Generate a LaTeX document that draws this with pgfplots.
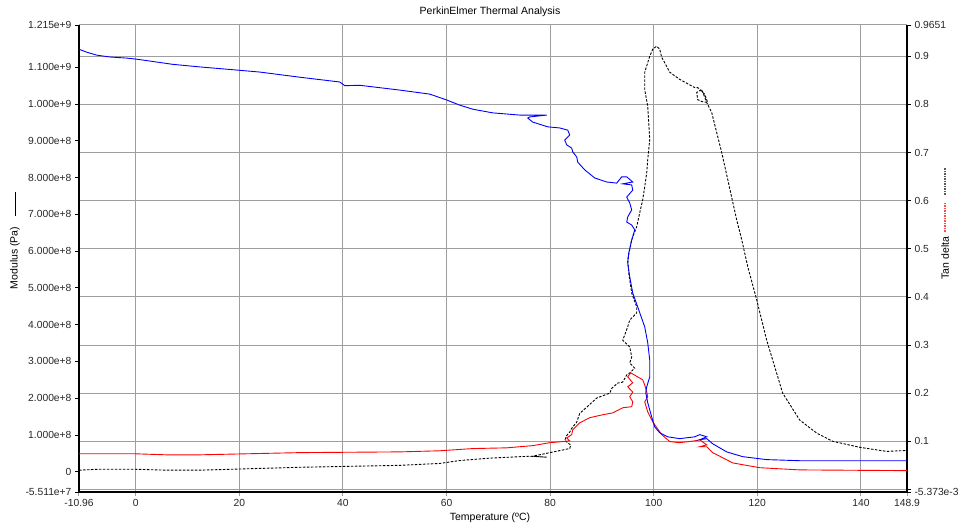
\documentclass[border=0pt]{standalone}
\usepackage{fontspec}
\setmainfont{Liberation Sans}
\usepackage{pgfplots}
\pgfplotsset{compat=1.18}
\definecolor{gridGray}{RGB}{158,158,158}

\pgfplotsset{
  dmabase/.style={
    scale only axis, width=828pt, height=467pt,
    at={(0pt,0pt)}, anchor=south west,
    xmin=-10.96, xmax=148.9,
    xtick={-10.96,0,20,40,60,80,100,120,140,148.9},
    tick align=outside, major tick length=4pt,
    ticklabel style={font=\fontsize{10.3}{12}\selectfont, text=black!85},
    axis line style={black, line width=1.1pt},
    grid style={draw=gridGray, line width=1pt},
  },
}

\begin{document}
\begin{tikzpicture}
% right axis: tan delta, carries the grid
\begin{axis}[dmabase,
  axis y line*=right, axis x line*=bottom,
  ymin=-0.005373, ymax=0.9651,
  ytick={-0.005373,0,0.1,0.2,0.3,0.4,0.5,0.6,0.7,0.8,0.9,0.9651},
  yticklabels={-5.373e-3,,0.1,0.2,0.3,0.4,0.5,0.6,0.7,0.8,0.9,0.9651},
  xticklabels={},
  xmajorgrids, ymajorgrids,
  x tick style={draw=gridGray, line width=1pt},
  y tick style={black, line width=0.8pt},
]
\addplot[black, line width=0.9pt, dash pattern=on 2.5pt off 1.5pt] coordinates {
(-10.96,0.040) (-6.95,0.042) (-0.58,0.042) (5.98,0.040) (12.36,0.040)
(31.66,0.046) (50.97,0.050) (58.69,0.054) (62.55,0.060) (68.34,0.065)
(76.06,0.069) (79.34,0.067) (76.64,0.069) (83.78,0.085) (83.98,0.092)
(82.82,0.102) (83.20,0.112) (83.78,0.119) (84.17,0.127) (85.14,0.140)
(85.71,0.158) (87.07,0.171) (89.00,0.190) (91.51,0.200) (91.89,0.210)
(93.05,0.221) (94.02,0.223) (94.79,0.238) (95.37,0.242) (96.33,0.252)
(95.37,0.263) (95.75,0.275) (95.37,0.296) (94.02,0.310) (94.98,0.338)
(95.37,0.352) (96.72,0.367) (96.72,0.379) (95.75,0.408) (95.17,0.450)
(94.98,0.477) (95.75,0.519) (96.72,0.546) (97.30,0.575) (97.88,0.602)
(98.26,0.629) (98.65,0.658) (98.84,0.685) (99.23,0.727) (98.84,0.796)
(98.26,0.831) (98.26,0.867) (99.23,0.900) (99.81,0.915) (100.58,0.921)
(101.16,0.915) (101.54,0.898) (102.51,0.879) (103.09,0.867) (105.02,0.852)
(107.92,0.835) (108.49,0.835) (109.85,0.821) (110.42,0.804) (109.27,0.806)
(108.49,0.810) (108.30,0.825) (109.27,0.831) (110.23,0.804) (111.20,0.783)
(112.36,0.733) (113.13,0.700) (114.29,0.644) (116.02,0.560) (116.99,0.519)
(118.15,0.463) (119.88,0.394) (121.81,0.310) (124.90,0.200) (128.19,0.144)
(131.47,0.117) (134.56,0.100) (139.77,0.0875) (144.98,0.079) (148.9,0.081)
};
\end{axis}

% left axis: modulus, in units of 1e8 Pa
\begin{axis}[dmabase,
  axis y line*=left, axis x line*=bottom,
  ymin=-0.5511, ymax=12.15,
  ytick={-0.5511,0,1,2,3,4,5,6,7,8,9,10,11,12.15},
  yticklabels={-5.511e+7,0,1.000e+8,2.000e+8,3.000e+8,4.000e+8,5.000e+8,
    6.000e+8,7.000e+8,8.000e+8,9.000e+8,1.000e+9,1.100e+9,1.215e+9},
  xticklabels={-10.96,0,20,40,60,80,100,120,140,148.9},
  x tick style={draw=none},
  y tick style={black, line width=0.8pt},
]
\addplot[red, line width=0.9pt] coordinates {
(-10.96,0.49) (-6.95,0.49) (-0.58,0.49) (5.98,0.46) (12.36,0.46)
(31.66,0.52) (50.97,0.54) (58.69,0.57) (65.06,0.63) (71.62,0.65)
(76.64,0.71) (79.92,0.79) (82.43,0.82) (83.78,0.84) (83.20,0.92)
(84.17,1.01) (84.36,1.14) (85.71,1.33) (87.64,1.47) (90.15,1.55)
(92.08,1.60) (94.02,1.74) (95.75,1.77) (95.95,1.90) (95.37,2.04)
(95.95,2.17) (94.98,2.31) (95.95,2.42) (94.98,2.58) (95.56,2.69)
(97.88,2.50) (98.26,2.36) (98.65,2.17) (98.84,2.04) (98.26,1.90)
(98.84,1.63) (99.81,1.36) (100.58,1.20) (101.54,1.01) (103.09,0.82)
(105.02,0.79) (107.92,0.84) (108.88,0.87) (110.23,0.73) (108.88,0.68)
(110.23,0.68) (111.39,0.52) (115.25,0.24) (120.46,0.11) (128.19,0.05)
(148.9,0.03)
};
\addplot[blue, line width=0.9pt] coordinates {
(-10.96,11.49) (-9.46,11.41) (-7.53,11.33) (-5.02,11.28) (-1.74,11.25)
(0.19,11.22) (2.70,11.17) (7.14,11.08) (12.36,11.01)
(19.88,10.92) (23.94,10.87) (31.66,10.73) (39.38,10.60) (40.35,10.50)
(43.24,10.51) (50.97,10.38) (56.76,10.27) (60.04,10.11) (62.55,9.97)
(65.06,9.86) (68.92,9.76) (74.13,9.70) (76.06,9.70) (79.34,9.70)
(76.06,9.65) (75.68,9.62) (76.64,9.51) (79.54,9.38) (81.85,9.35)
(83.40,9.29) (83.78,9.16) (82.82,9.02) (83.20,8.89) (84.17,8.80)
(84.36,8.70) (85.14,8.56) (85.33,8.42) (86.68,8.21) (88.61,7.99)
(90.93,7.88) (92.86,7.85) (93.82,8.02) (94.79,8.02) (95.95,7.88)
(94.02,7.83) (95.75,7.80) (95.95,7.66) (94.79,7.47) (95.37,7.31)
(95.75,7.12) (94.98,6.93) (94.79,6.79) (95.75,6.71) (96.33,6.58)
(95.75,6.30) (95.17,5.95) (94.98,5.68) (95.37,5.30) (95.95,4.86)
(96.91,4.48) (98.26,3.94) (98.84,3.51) (99.23,3.04) (99.23,2.58)
(98.65,2.31) (98.46,2.15) (98.84,1.88) (99.61,1.49) (100.19,1.22)
(101.16,1.06) (102.70,0.95) (105.02,0.90) (107.92,0.95) (108.88,1.01)
(110.23,0.95) (108.88,0.87) (110.23,0.90) (111.39,0.76) (114.09,0.54)
(117.18,0.41) (121.81,0.33) (128.19,0.30) (148.9,0.30)
};
\end{axis}

% titles and axis labels
\node[font=\fontsize{10.5}{12}\selectfont] at (411pt,480pt) {PerkinElmer Thermal Analysis};
\node[font=\fontsize{10.5}{12}\selectfont] at (411pt,-26pt) {Temperature (ºC)};
\node[font=\fontsize{10.5}{12}\selectfont, rotate=90] at (-64pt,234pt) {Modulus (Pa)};
\draw[black, line width=0.9pt] (-64pt,276pt) -- (-64pt,300pt);
\node[font=\fontsize{10.5}{12}\selectfont, rotate=90] at (866pt,234pt) {Tan delta};
\draw[red!70, line width=1.4pt, dash pattern=on 1.5pt off 1pt] (866pt,260pt) -- (866pt,289pt);
\draw[black!65, line width=1.4pt, dash pattern=on 1.5pt off 1pt] (866pt,297pt) -- (866pt,324pt);

\pgfresetboundingbox
\path[use as bounding box] (-79pt,-33pt) rectangle (879pt,492pt);
\end{tikzpicture}
\end{document}
